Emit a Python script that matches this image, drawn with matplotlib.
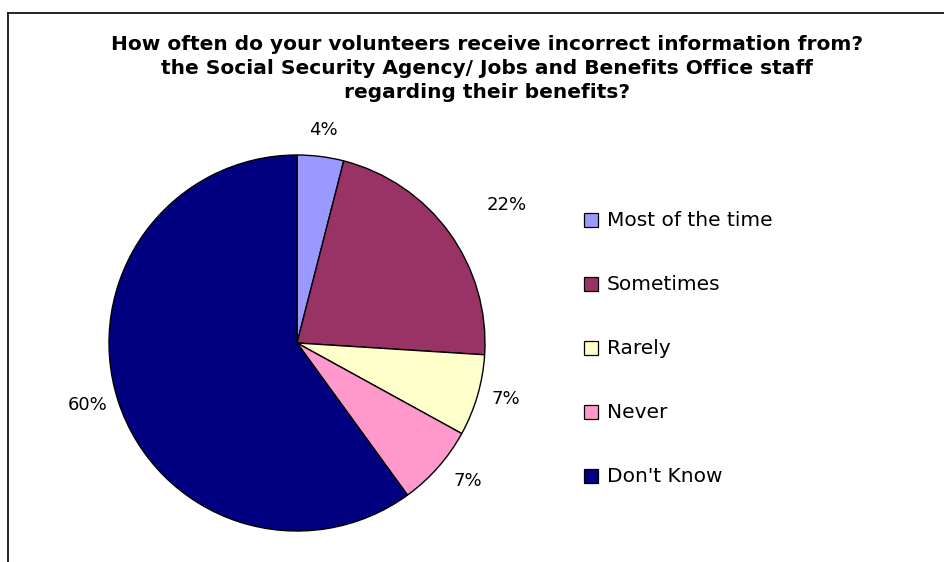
import matplotlib.pyplot as plt
import numpy as np
from matplotlib.lines import Line2D
from matplotlib.patches import Rectangle

plt.rcParams["font.family"] = ["DejaVu Sans"]

# ---- data ----
CATEGORIES = ["Most of the time", "Sometimes", "Rarely", "Never", "Don't Know"]
PERCENTS = [4, 22, 7, 7, 60]
COLORS = ["#9999FF", "#993366", "#FFFFCC", "#FF99CC", "#000080"]
TITLE = ("How often do your volunteers receive incorrect information from?\n"
         "the Social Security Agency/ Jobs and Benefits Office staff\n"
         "regarding their benefits?")

# distance (in radii) from the centre to the near edge of each percentage label
LABEL_DIST = [1.14, 1.25, 1.075, 1.11, 1.06]

W, H = 944, 562
fig = plt.figure(figsize=(W / 100, H / 100), dpi=100)
fig.patch.set_facecolor("white")

# frame: top and left edges only
fig.add_artist(Line2D([8 / W, 1.0], [1 - 12.5 / H, 1 - 12.5 / H],
                      color="black", lw=1.2, transform=fig.transFigure))
fig.add_artist(Line2D([8 / W, 8 / W], [0.0, 1 - 12.5 / H],
                      color="black", lw=1.2, transform=fig.transFigure))

fig.text(487 / W, 1 - 35 / H, TITLE, ha="center", va="top",
         fontsize=14.5, fontweight="bold", linespacing=1.34)

# pie centred at (297, 343) px with radius 188 px
cx, cy, r = 297, 343, 188
ax = fig.add_axes([(cx - r) / W, (H - cy - r) / H, 2 * r / W, 2 * r / H])
wedges, _ = ax.pie(PERCENTS, colors=COLORS, startangle=90, counterclock=False,
                   wedgeprops=dict(edgecolor="black", linewidth=1.0))
ax.set_xlim(-1, 1)
ax.set_ylim(-1, 1)
ax.set_aspect("equal")
ax.axis("off")

for w, pct, d in zip(wedges, PERCENTS, LABEL_DIST):
    ang = np.deg2rad((w.theta1 + w.theta2) / 2)
    c, s = np.cos(ang), np.sin(ang)
    ha = "center" if abs(c) < 0.3 else ("left" if c > 0 else "right")
    ax.text(d * c, d * s, f"{pct}%", ha=ha, va="center", fontsize=13)

# legend drawn manually with square swatches
for i, (name, col) in enumerate(zip(CATEGORIES, COLORS)):
    y = 220 + i * 64
    fig.add_artist(Rectangle((584 / W, 1 - (y + 7) / H), 14 / W, 14 / H,
                             facecolor=col, edgecolor="black", lw=0.9,
                             transform=fig.transFigure))
    fig.text(607 / W, 1 - y / H, name, ha="left", va="center", fontsize=14.5)

fig.savefig("out.png", dpi=100, facecolor="white")
